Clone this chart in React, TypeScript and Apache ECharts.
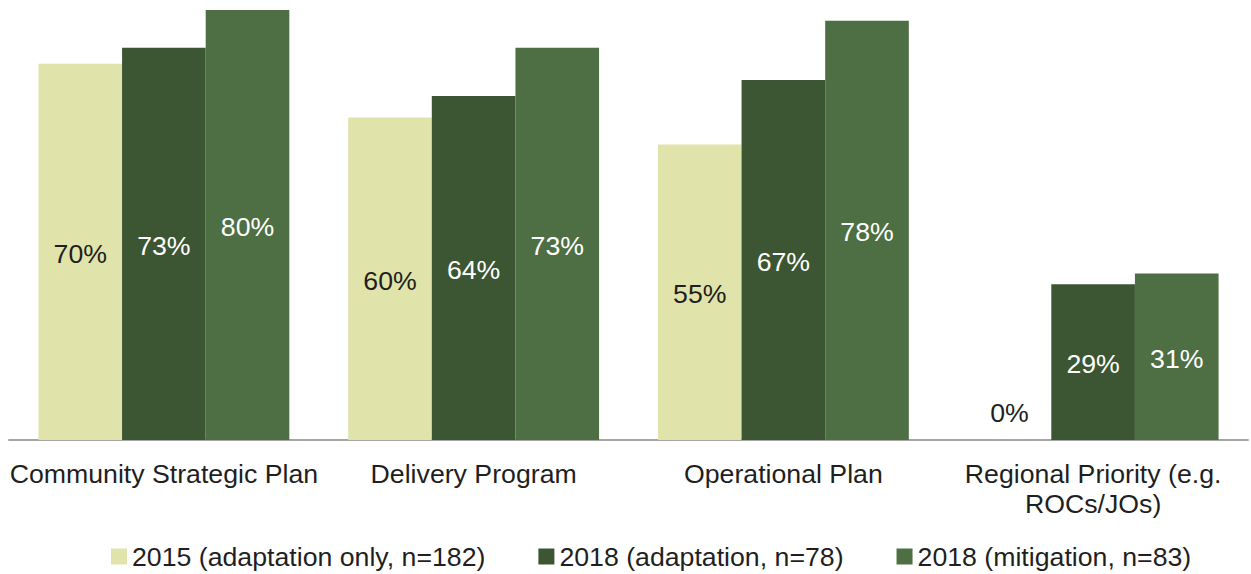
import React, { useEffect, useRef } from "react";
import * as echarts from "echarts";

const categories = [
  "Community Strategic Plan",
  "Delivery Program",
  "Operational Plan",
  "Regional Priority (e.g.\nROCs/JOs)",
];
const seriesNames = [
  "2015 (adaptation only, n=182)",
  "2018 (adaptation, n=78)",
  "2018 (mitigation, n=83)",
];
const values2015 = [70, 60, 55, 0];
const values2018Adaptation = [73, 64, 67, 29];
const values2018Mitigation = [80, 73, 78, 31];
const colors = ["#e1e4aa", "#3c5532", "#4d6f43"];
const labelColors = ["#1f1f1f", "#ffffff", "#ffffff"];

const FONT = "'Liberation Sans', Arial, sans-serif";
const FS = 26.7;

export default function App() {
  const ref = useRef<HTMLDivElement>(null);
  useEffect(() => {
    if (!ref.current) return;
    const chart = echarts.init(ref.current, null, { renderer: "svg" });
    const allValues = [values2015, values2018Adaptation, values2018Mitigation];
    chart.setOption({
      animation: false,
      textStyle: { fontFamily: FONT },
      legend: {
        top: 538,
        left: 106,
        icon: "rect",
        itemWidth: 16,
        itemHeight: 16,
        itemGap: 53,
        textStyle: { fontSize: FS, color: "#1f1f1f", fontFamily: FONT },
        data: seriesNames,
      },
      grid: { left: 9, right: 3, top: 10, height: 430 },
      xAxis: {
        type: "category",
        data: categories,
        axisLine: { lineStyle: { color: "#a6a6a6", width: 2 } },
        axisTick: { show: false },
        axisLabel: {
          fontSize: FS,
          color: "#1f1f1f",
          margin: 19,
          lineHeight: 30,
          interval: 0,
          fontFamily: FONT,
        },
      },
      yAxis: {
        type: "value",
        min: 0,
        max: 80,
        show: false,
        splitLine: { show: false },
      },
      series: allValues.map((vals, i) => ({
        name: seriesNames[i],
        type: "bar",
        barGap: "0%",
        barCategoryGap: "19%",
        itemStyle: { color: colors[i] },
        data: vals.map((v) =>
          v === 0
            ? {
                value: v,
                label: { position: "top", distance: 14, offset: [0, 0], color: "#1f1f1f" },
              }
            : v
        ),
        label: {
          show: true,
          position: "inside",
          offset: [0, 2],
          fontSize: FS,
          color: labelColors[i],
          fontFamily: FONT,
          formatter: "{c}%",
        },
      })),
    });
    return () => chart.dispose();
  }, []);
  return (
    <div
      ref={ref}
      style={{ position: "absolute", left: 0, top: 0, width: 1251, height: 574 }}
    />
  );
}
